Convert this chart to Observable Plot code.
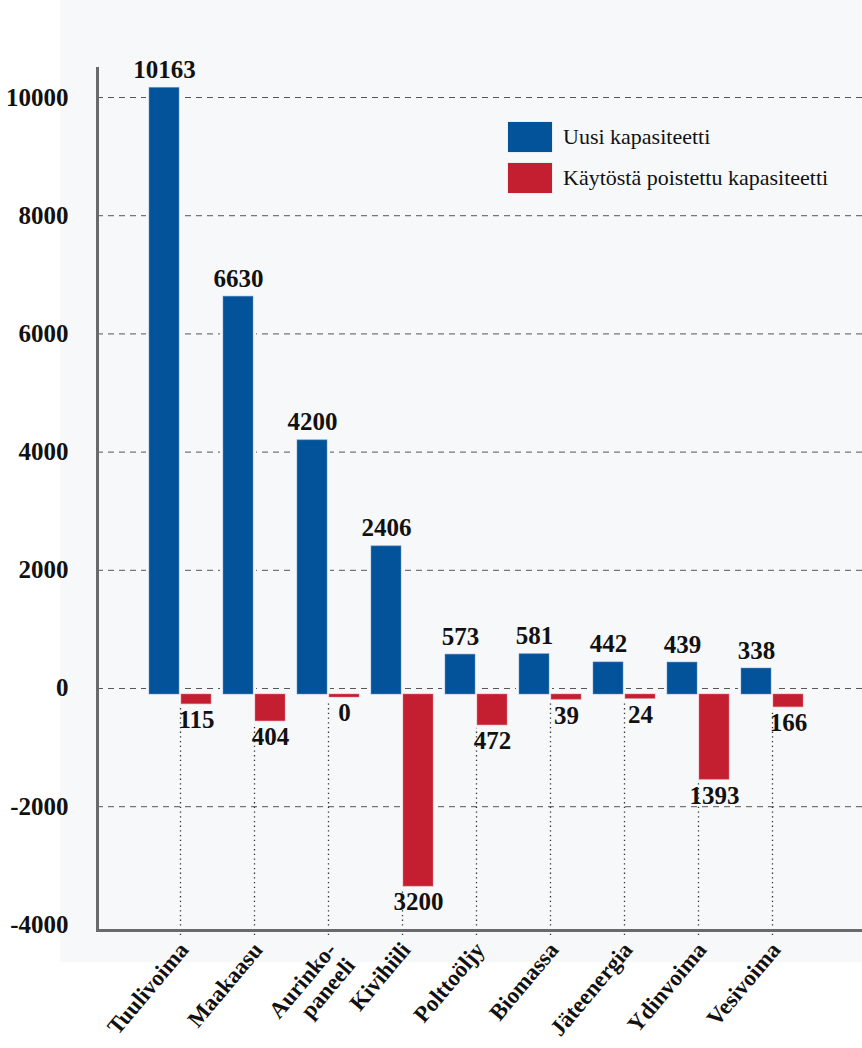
<!DOCTYPE html>
<html><head><meta charset="utf-8">
<script src="https://cdn.jsdelivr.net/npm/d3@7"></script>
<script src="https://cdn.jsdelivr.net/npm/@observablehq/plot@0.6"></script>
<style>
html,body{margin:0;padding:0;background:#fff;}
#wrap{position:relative;width:862px;height:1048px;overflow:hidden;}
#bg{position:absolute;left:60px;top:0;width:802px;height:962px;background:#f7f8fa;}
#chart{position:absolute;left:0;top:0;}
.legend{position:absolute;left:508px;top:122px;font-family:"Liberation Serif","Times New Roman",serif;font-size:22px;color:#111;}
.item{display:flex;align-items:center;height:30px;margin-bottom:11px;}
.sw{width:44px;height:30px;margin-right:11px;box-shadow:0 0 1px rgba(0,0,0,0.25);}
</style></head>
<body><div id="wrap"><div id="bg"></div><div id="chart"></div><div class="legend" id="legend"></div></div>
<script>
const categories = ["Tuulivoima","Maakaasu","Aurinko-\npaneeli","Kivihiili","Polttoöljy","Biomassa","Jäteenergia","Ydinvoima","Vesivoima"];
const newCapacity = [10163, 6630, 4200, 2406, 573, 581, 442, 439, 338];
const retiredCapacity = [115, 404, 0, 3200, 472, 39, 24, 1393, 166];
const seriesNames = ["Uusi kapasiteetti", "Käytöstä poistettu kapasiteetti"];
const seriesColors = ["#03539a", "#c41f31"];
const yTicks = [-4000, -2000, 0, 2000, 4000, 6000, 8000, 10000];
const gridTicks = [-2000, 0, 2000, 4000, 6000, 8000, 10000];

const blue = categories.map((c, i) => ({cat: c, v: newCapacity[i]}));
const red = categories.map((c, i) => ({cat: c, v: -retiredCapacity[i], label: retiredCapacity[i]}));

const font = '"Liberation Serif","Times New Roman",serif';
const bg = "#f7f8fa";

const chart = Plot.plot({
  width: 862,
  height: 1048,
  marginLeft: 97,
  marginRight: 0,
  marginTop: 68,
  marginBottom: 118,
  style: {background: "transparent", fontFamily: font, color: "#111"},
  x: {domain: categories, padding: 0, insetLeft: 45, insetRight: 52, axis: null},
  y: {domain: [-4095, 10491], axis: null},
  marks: [
    Plot.ruleY(gridTicks, {stroke: "#555", strokeWidth: 1, strokeDasharray: "6,5"}),
    Plot.ruleX(categories, {x: d => d, y1: 0, y2: -4095, stroke: "#333", strokeWidth: 1.3, strokeDasharray: "1.3,3.4", dy: 6}),
    // halo behind bars
    Plot.barY(blue, {x: "cat", y1: 0, y2: "v", fill: bg, stroke: bg, strokeWidth: 6, insetLeft: 6, insetRight: 38, insetBottom: -6}),
    Plot.barY(red, {x: "cat", y1: 0, y2: "v", fill: bg, stroke: bg, strokeWidth: 6, insetLeft: 38, insetRight: 6, dy: 6, insetBottom: -3}),
    Plot.barY(blue, {x: "cat", y1: 0, y2: "v", fill: seriesColors[0], stroke: "#6d8fc4", strokeOpacity: 0.5, strokeWidth: 1, insetLeft: 6, insetRight: 38, insetBottom: -6}),
    Plot.barY(red, {x: "cat", y1: 0, y2: "v", fill: seriesColors[1], stroke: "#e07a84", strokeOpacity: 0.5, strokeWidth: 1, insetLeft: 38, insetRight: 6, dy: 6, insetBottom: -3}),
    Plot.text(blue, {x: "cat", y: "v", text: d => String(d.v), dx: -16, dy: -10, lineAnchor: "bottom", fontSize: 25, fontWeight: "bold", fill: "#111"}),
    Plot.text(red, {x: "cat", y: "v", text: d => String(d.label), dx: 16, dy: 15, lineAnchor: "top", fontSize: 25, fontWeight: "bold", fill: "#111"}),
    Plot.text(yTicks, {y: d => d, frameAnchor: "left", text: d => String(d), textAnchor: "end", dx: -29, fontSize: 25, fontWeight: "bold", fill: "#111"}),
    Plot.text(categories, {x: d => d, frameAnchor: "bottom", text: d => d, rotate: -50, textAnchor: "end", lineAnchor: "top", dx: -4, dy: 9, fontSize: 23, fontWeight: "bold", fill: "#111", lineHeight: 1.05}),
    Plot.frame({anchor: "left", stroke: "#6a6a6a", strokeWidth: 3}),
    Plot.frame({anchor: "bottom", stroke: "#6a6a6a", strokeWidth: 3})
  ]
});
document.getElementById("chart").appendChild(chart);

const legend = document.getElementById("legend");
seriesNames.forEach((n, i) => {
  const item = document.createElement("div");
  item.className = "item";
  const sw = document.createElement("div");
  sw.className = "sw";
  sw.style.background = seriesColors[i];
  const t = document.createElement("span");
  t.textContent = n;
  item.appendChild(sw);
  item.appendChild(t);
  legend.appendChild(item);
});
</script>
</body></html>
